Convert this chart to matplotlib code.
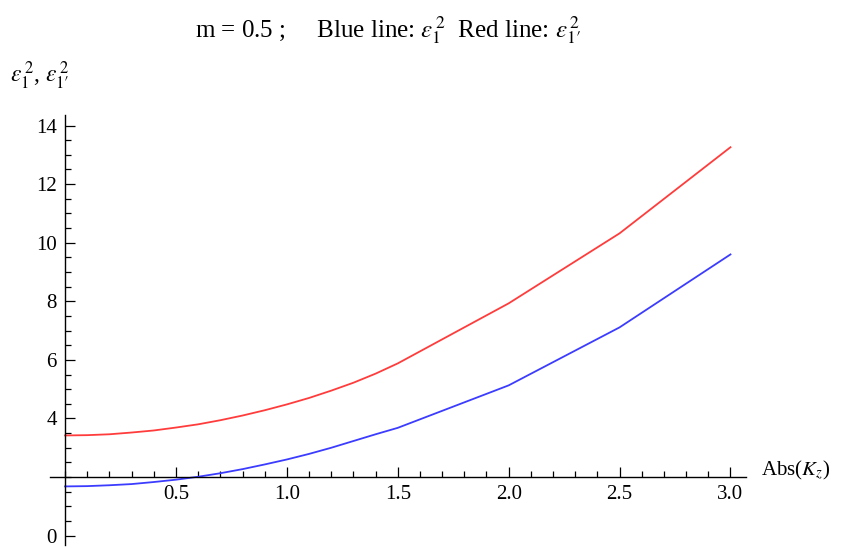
import matplotlib
matplotlib.use('Agg')
import matplotlib.pyplot as plt
import numpy as np
from matplotlib.ticker import MultipleLocator, FixedLocator

# values
kz = [0.0, 0.1, 0.2, 0.3, 0.4, 0.5, 0.6, 0.7, 0.8, 0.9, 1.0,
      1.1, 1.2, 1.3, 1.4, 1.5, 2.0, 2.5, 3.0]
eps1_sq = [1.68, 1.69, 1.72, 1.76, 1.83, 1.91, 2.01, 2.13, 2.27, 2.43, 2.60,
           2.79, 3.00, 3.23, 3.46, 3.68, 5.13, 7.11, 9.60]          # blue
eps1p_sq = [3.42, 3.43, 3.46, 3.52, 3.59, 3.69, 3.80, 3.94, 4.10, 4.28, 4.48,
            4.70, 4.95, 5.22, 5.53, 5.88, 7.93, 10.32, 13.26]      # red

x_ticks = [0.5, 1.0, 1.5, 2.0, 2.5, 3.0]
y_ticks = [0, 4, 6, 8, 10, 12, 14]

plt.rcParams['font.family'] = ['Liberation Serif', 'DejaVu Serif']
plt.rcParams['mathtext.fontset'] = 'stix'

fig = plt.figure(figsize=(8.44, 5.48), dpi=100)
ax = fig.add_axes([50/844, 3/548, 696/844, 430/548])

ax.plot(kz, eps1_sq, color='#3c3cff', lw=1.3)
ax.plot(kz, eps1p_sq, color='#ff3c3c', lw=1.3)

ax.set_xlim(-0.068, 3.07)
ax.set_ylim(-0.32, 14.36)

# Mathematica style axes: y axis at x=0, x axis crossing at y=2
ax.spines['left'].set_position(('data', 0))
ax.spines['bottom'].set_position(('data', 2))
ax.spines['top'].set_visible(False)
ax.spines['right'].set_visible(False)
for s in ('left', 'bottom'):
    ax.spines[s].set_linewidth(1.0)

ax.xaxis.set_major_locator(FixedLocator(x_ticks))
ax.xaxis.set_minor_locator(MultipleLocator(0.1))
ax.yaxis.set_major_locator(FixedLocator(y_ticks))
ax.yaxis.set_minor_locator(MultipleLocator(0.5))
ax.set_xticklabels(['%.1f' % v for v in x_ticks])
ax.set_yticklabels([str(v) for v in y_ticks])

ax.tick_params(which='both', direction='in', labelsize=15, width=0.9)
ax.tick_params(which='major', length=7)
ax.tick_params(which='minor', length=4)
ax.tick_params(axis='x', pad=6)
ax.tick_params(axis='y', pad=6)

ax.annotate(r'Abs($K_z$)', xy=(1, 2), xycoords=('axes fraction', 'data'),
            xytext=(11, 5), textcoords='offset points',
            ha='left', va='center', fontsize=15)

fig.text(388/844, 1 - 30/548,
         r'm = 0.5 ;     Blue line: $\epsilon_1^{\,2}$  Red line: $\epsilon_{1\prime}^{\,2}$',
         ha='center', va='center', fontsize=18)
fig.text(10/844, 1 - 76/548, r'$\epsilon_1^{\,2}$, $\epsilon_{1\prime}^{\,2}$',
         ha='left', va='center', fontsize=17)

fig.savefig('out.png', dpi=100)
